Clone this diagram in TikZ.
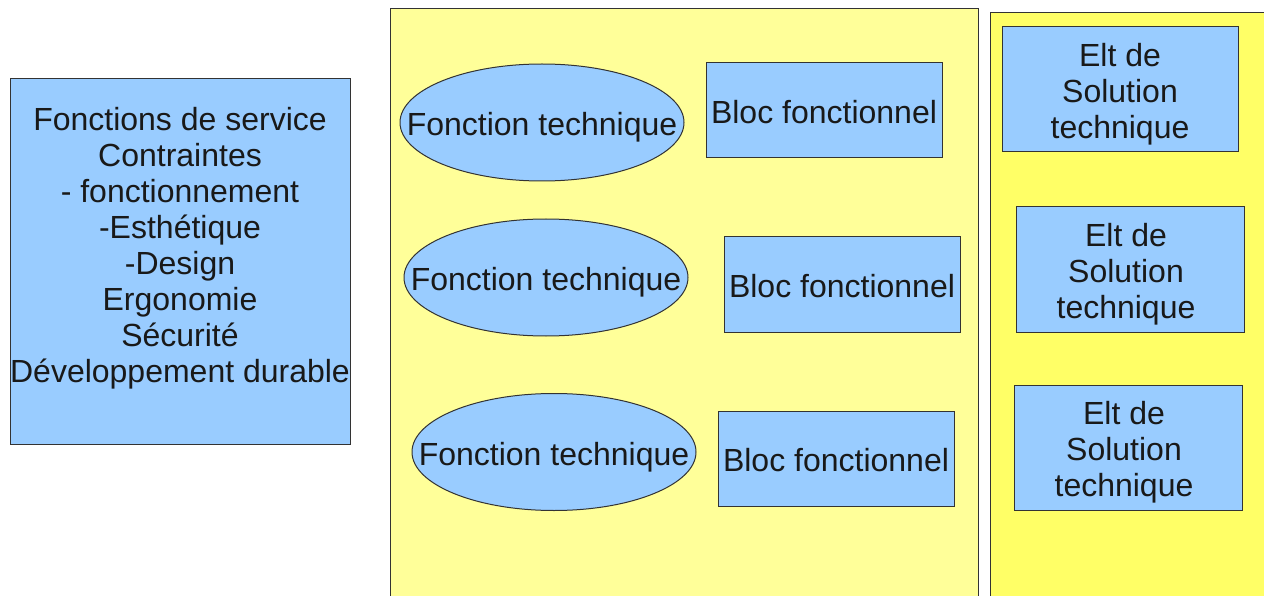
\documentclass[tikz,border=0pt]{standalone}
\usepackage{fontspec}
\setmainfont{Liberation Sans}
\usetikzlibrary{shapes.geometric}
\definecolor{boxblue}{HTML}{99CCFF}
\definecolor{paleyellow}{HTML}{FFFF99}
\definecolor{brightyellow}{HTML}{FFFF66}
\definecolor{edgegray}{HTML}{333333}
\tikzset{
  panel/.style={draw=edgegray, line width=1pt, rectangle, inner sep=0pt},
  boxtext/.style={font=\fontsize{32}{36}\selectfont, text=black!90, align=center},
  bluebox/.style={draw=edgegray, line width=1pt, fill=boxblue, rectangle, inner sep=0pt},
  blueoval/.style={draw=edgegray, line width=1pt, fill=boxblue, ellipse, inner sep=0pt,
    minimum width=284pt, minimum height=117pt,
    label={[boxtext, yshift=-5pt]center:Fonction technique}},
  bloc/.style={bluebox, minimum width=236pt, minimum height=95pt,
    label={[boxtext, yshift=-2pt]center:Bloc fonctionnel}},
  solution/.style 2 args={bluebox, minimum width=#1, minimum height=125pt,
    label={[boxtext, yshift=-5pt, xshift=#2]center:Elt de\\Solution\\technique}},
}
\begin{document}
\begin{tikzpicture}[x=1pt,y=-1pt]
\useasboundingbox (0,0) rectangle (1264,596);
\fill[white] (0,0) rectangle (1264,596);
% panels
\node[panel, fill=paleyellow, minimum width=588pt, minimum height=591pt] (p1) at (684,304.5) {};
\node[panel, fill=brightyellow, minimum width=280pt, minimum height=587pt] (p2) at (1130,306.5) {};
% left box
\node[bluebox, minimum width=340pt, minimum height=365pt,
  label={[boxtext, yshift=-1pt]center:Fonctions de service\\Contraintes\\- fonctionnement\\-Esthétique\\-Design\\Ergonomie\\Sécurité\\Développement durable\\\mbox{}}]
  (left) at (180,261.5) {};
% ellipses
\node[blueoval] (e1) at (542,122.5) {};
\node[blueoval] (e2) at (546,277.5) {};
\node[blueoval] (e3) at (554,452) {};
% blocs
\node[bloc] (b1) at (824,110.5) {};
\node[bloc] (b2) at (842,284.5) {};
\node[bloc] (b3) at (836,458.5) {};
% solutions
\node[solution={236pt}{0pt}] (s1) at (1120,89.5) {};
\node[solution={228pt}{-4pt}] (s2) at (1130,269.5) {};
\node[solution={228pt}{-4pt}] (s3) at (1128,447.5) {};
\end{tikzpicture}
\end{document}
